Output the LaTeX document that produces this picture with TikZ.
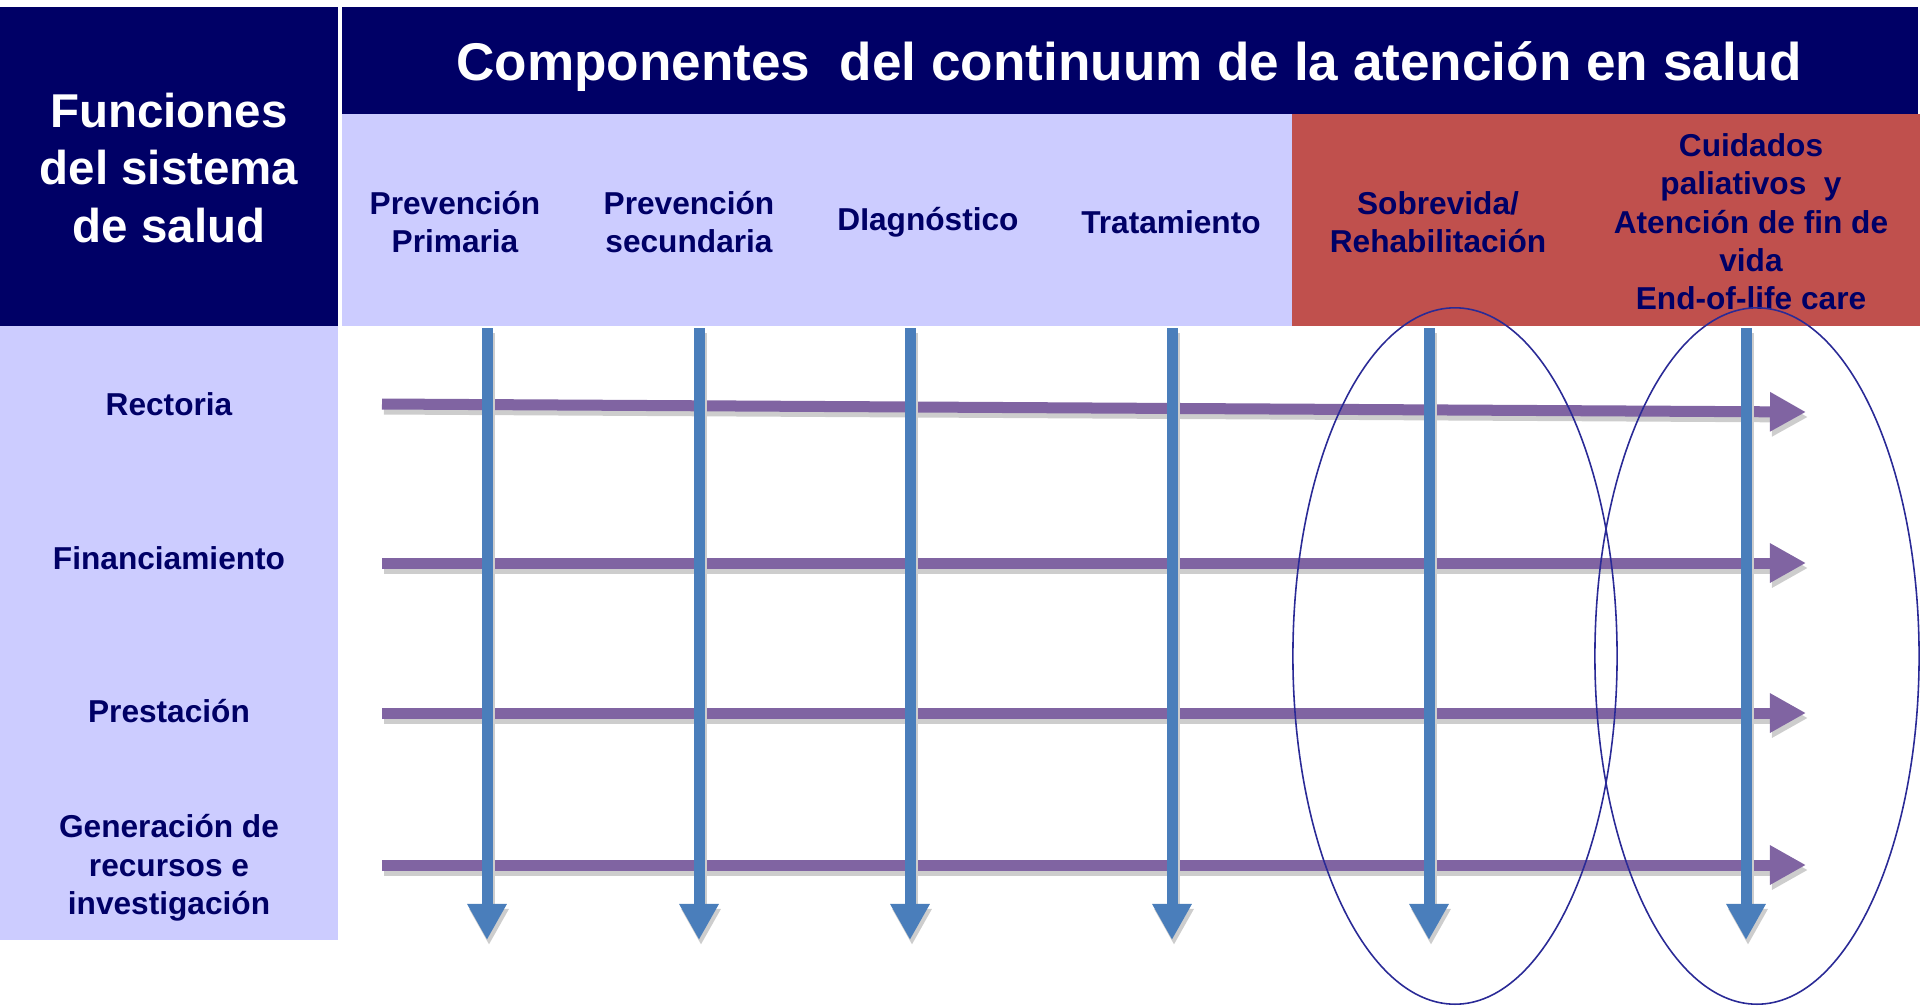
\documentclass[tikz,border=0pt]{standalone}
\usepackage{fontspec}
\setmainfont{Liberation Sans}
\usetikzlibrary{arrows.meta}

\definecolor{hdrnavy}{HTML}{000066}
\definecolor{cellblue}{HTML}{CCCCFF}
\definecolor{cellred}{HTML}{C0504D}
\definecolor{labelnavy}{HTML}{000066}
\definecolor{arrowpurple}{HTML}{8064A2}
\definecolor{arrowblue}{HTML}{4A7EBB}
\definecolor{shadowgray}{HTML}{CDCDCD}
\definecolor{ringblue}{HTML}{2A2A96}

\begin{document}
\begin{tikzpicture}[
  x=0.01cm, y=-0.01cm,
  titlelabel/.style={text=white, font=\bfseries\fontsize{15.1}{18}\selectfont},
  funclabel/.style={text=white, align=center, font=\bfseries\fontsize{13.5}{16.4}\selectfont},
  complabel/.style={text=labelnavy, align=center, font=\bfseries\fontsize{9}{10.9}\selectfont},
  harrow/.style={draw=arrowpurple, line width=0.11cm, -{Triangle[length=0.36cm, width=0.37cm]}},
  varrow/.style={draw=arrowblue, line width=0.11cm, -{Triangle[length=0.36cm, width=0.37cm]}},
  shade/.style={draw=shadowgray, transform canvas={shift={(0.02cm,-0.05cm)}}},
  ring/.style={draw=ringblue, line width=0.45pt}
]
\useasboundingbox (0,0) rectangle (1920,1005);

% cells
\fill[hdrnavy] (0,7) rectangle (338,326);
\fill[hdrnavy] (342,7) rectangle (1918,114);
\fill[cellblue] (342,114) rectangle (1292,326);
\fill[cellred] (1292,114) rectangle (1920,326);
\fill[cellblue] (0,326) rectangle (338,940);

% headers
\node[titlelabel] (title) at (1129,67) {Componentes\ \ del continuum de la atención en salud};
\node[funclabel] (func) at (169,168) {Funciones\\del sistema\\de salud};

\node[complabel] (prim) at (455,222) {Prevención\\Primaria};
\node[complabel] (secu) at (689,222) {Prevención\\secundaria};
\node[complabel] (diag) at (928,222) {DIagnóstico};
\node[complabel] (trat) at (1171,222) {Tratamiento};
\node[complabel] (sobr) at (1438,222) {Sobrevida/\\Rehabilitación};
\node[complabel] (pali) at (1751,222) {Cuidados\\paliativos\ \ y\\Atención de fin de\\vida\\End-of-life care};

% functions
\node[complabel] (rect) at (169,404) {Rectoria};
\node[complabel] (fina) at (169,558) {Financiamiento};
\node[complabel] (pres) at (169,711) {Prestación};
\node[complabel] (gene) at (169,868) {Generación de\\recursos e\\investigación};

% horizontal arrows
\coordinate (h1s) at (382,404);
\coordinate (h1e) at (1806,412);
\foreach \i/\y in {2/563, 3/713, 4/865} {
  \coordinate (h\i s) at (382,\y);
  \coordinate (h\i e) at (1806,\y);
}
\foreach \i in {1,...,4} {
  \draw[harrow, shade] (h\i s) -- (h\i e);
  \draw[harrow] (h\i s) -- (h\i e);
}

% vertical arrows
\foreach \i/\x in {1/487, 2/699, 3/910, 4/1172, 5/1429, 6/1746} {
  \coordinate (v\i s) at (\x,328);
  \coordinate (v\i e) at (\x,940);
  \draw[varrow, shade] (v\i s) -- (v\i e);
  \draw[varrow] (v\i s) -- (v\i e);
}

% rings
\draw[ring] (1455,656) ellipse [x radius=1.62cm, y radius=3.48cm];
\draw[ring] (1757,656) ellipse [x radius=1.62cm, y radius=3.48cm];

\end{tikzpicture}
\end{document}
